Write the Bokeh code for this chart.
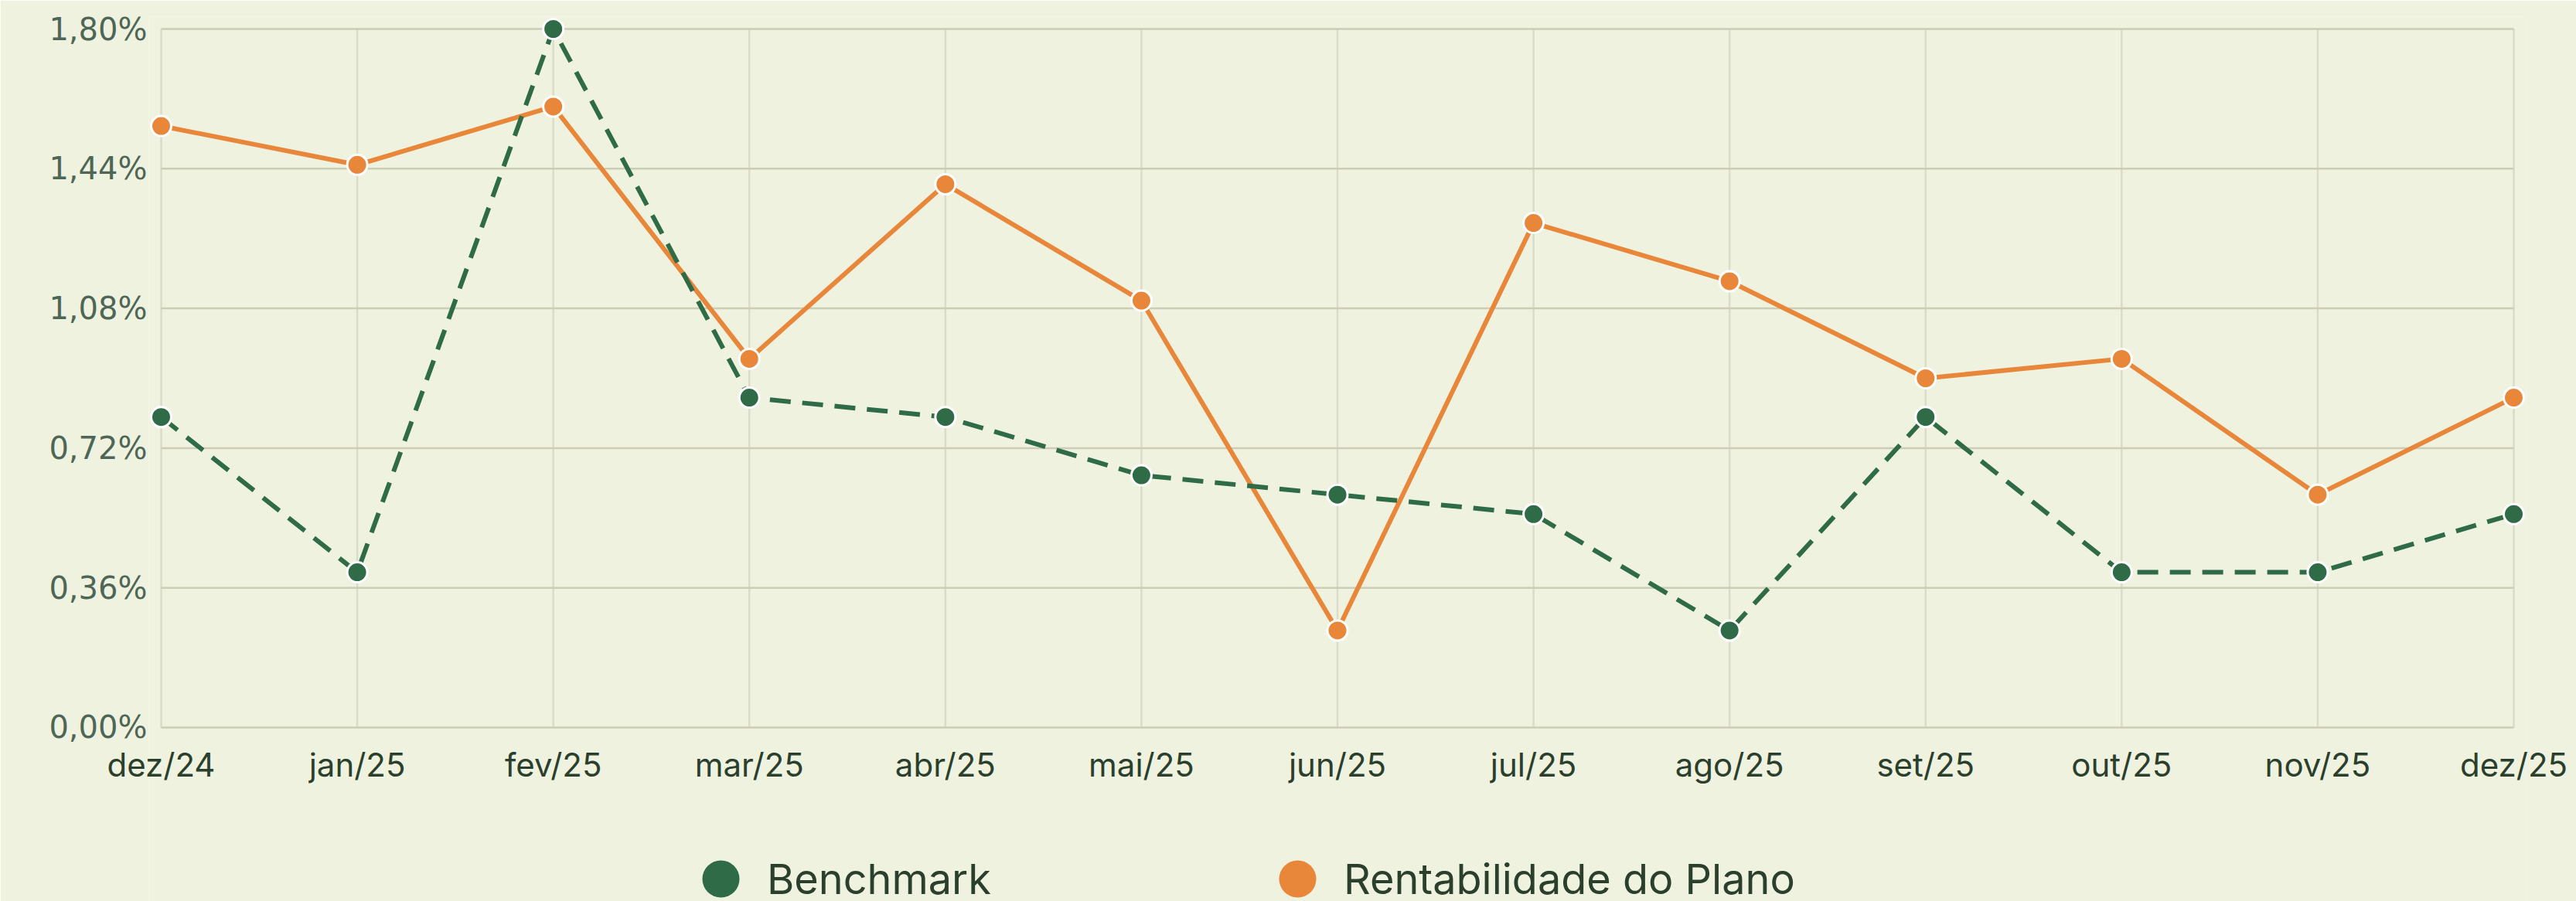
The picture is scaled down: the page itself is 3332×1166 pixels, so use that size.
from bokeh.plotting import figure
from bokeh.models import Range1d, FixedTicker, Legend, LegendItem
from bokeh.embed import file_html
from bokeh.resources import INLINE

# ---- data ----
months = ["dez/24", "jan/25", "fev/25", "mar/25", "abr/25", "mai/25", "jun/25",
          "jul/25", "ago/25", "set/25", "out/25", "nov/25", "dez/25"]
benchmark = [0.80, 0.40, 1.80, 0.85, 0.80, 0.65, 0.60, 0.55, 0.25, 0.80, 0.40, 0.40, 0.55]
plano = [1.55, 1.45, 1.60, 0.95, 1.40, 1.10, 0.25, 1.30, 1.15, 0.90, 0.95, 0.60, 0.85]
y_ticks = [0.0, 0.36, 0.72, 1.08, 1.44, 1.80]
y_tick_labels = ["0,00%", "0,36%", "0,72%", "1,08%", "1,44%", "1,80%"]
series_names = ["Benchmark", "Rentabilidade do Plano"]

# ---- style ----
BG = "#F0F2E0"
GREEN = "#2E6B46"
ORANGE = "#E8873A"
DARK = "#2A3F2C"
YLAB = "#4E6655"
HGRID = "#CBCDB7"
VGRID = "#DADBC9"

W = 3332
H = 1166
PX_X = 253.6          # pixels per month
PX_Y = 502.2          # pixels per 1 %
PAD = 16              # room for the edge markers
BELOW = 225           # room under the 0 % line for labels and legend

x_idx = list(range(len(months)))
n = len(x_idx)

p = figure(width=W, height=H, output_backend="svg", toolbar_location=None,
           x_range=Range1d(x_idx[0] - PAD / PX_X, x_idx[-1] + PAD / PX_X),
           y_range=Range1d(y_ticks[0] - BELOW / PX_Y, y_ticks[-1] + PAD / PX_Y),
           min_border_left=192, min_border_right=65, min_border_top=21, min_border_bottom=0,
           background_fill_color=BG, border_fill_color=BG, outline_line_color=None)

p.xgrid.visible = False
p.ygrid.visible = False

# grid lines bounded to the data area
p.segment(x0=x_idx, y0=[y_ticks[0]] * n, x1=x_idx, y1=[y_ticks[-1]] * n,
          line_color=VGRID, line_width=2.5)
p.segment(x0=[x_idx[0]] * len(y_ticks), y0=y_ticks, x1=[x_idx[-1]] * len(y_ticks), y1=y_ticks,
          line_color=HGRID, line_width=2.5)

p.line(x_idx, plano, line_color=ORANGE, line_width=6)
p.line(x_idx, benchmark, line_color=GREEN, line_width=6, line_dash="27 15")
p.scatter(x_idx, plano, size=26, fill_color=ORANGE, line_color="white", line_width=3)
p.scatter(x_idx, benchmark, size=26, fill_color=GREEN, line_color="white", line_width=3)

xa = p.xaxis[0]
xa.ticker = FixedTicker(ticks=x_idx)
xa.major_label_overrides = {i: m for i, m in zip(x_idx, months)}
xa.axis_line_color = None
xa.major_tick_line_color = None
xa.minor_tick_line_color = None
xa.major_tick_out = 0
xa.major_tick_in = 0
xa.major_label_text_font = "Inter"
xa.major_label_text_font_size = "42px"
xa.major_label_text_color = DARK
xa.major_label_standoff = 22 - BELOW   # labels just under the 0 % line

ya = p.yaxis[0]
ya.ticker = FixedTicker(ticks=y_ticks)
ya.major_label_overrides = {t: l for t, l in zip(y_ticks, y_tick_labels)}
ya.axis_line_color = None
ya.major_tick_line_color = None
ya.minor_tick_line_color = None
ya.major_tick_out = 0
ya.major_tick_in = 0
ya.major_label_text_font = "DejaVu Sans"
ya.major_label_text_font_size = "40px"
ya.major_label_text_color = YLAB
ya.major_label_standoff = 2

# legend-only marker renderers (no visible points)
nan = float("nan")
leg_g = p.scatter([nan], [nan], size=48, fill_color=GREEN, line_color=None)
leg_o = p.scatter([nan], [nan], size=48, fill_color=ORANGE, line_color=None)

legend = Legend(items=[LegendItem(label=series_names[0], renderers=[leg_g]),
                       LegendItem(label=series_names[1], renderers=[leg_o])],
                orientation="horizontal", location=(680, -31),
                glyph_width=120, glyph_height=120, label_standoff=0, spacing=336,
                padding=0, margin=0, border_line_color=None, background_fill_alpha=0,
                label_text_font="Inter", label_text_font_size="54px", label_text_color=DARK)
p.add_layout(legend, "center")

open("out.html", "w").write(file_html(p, INLINE))
